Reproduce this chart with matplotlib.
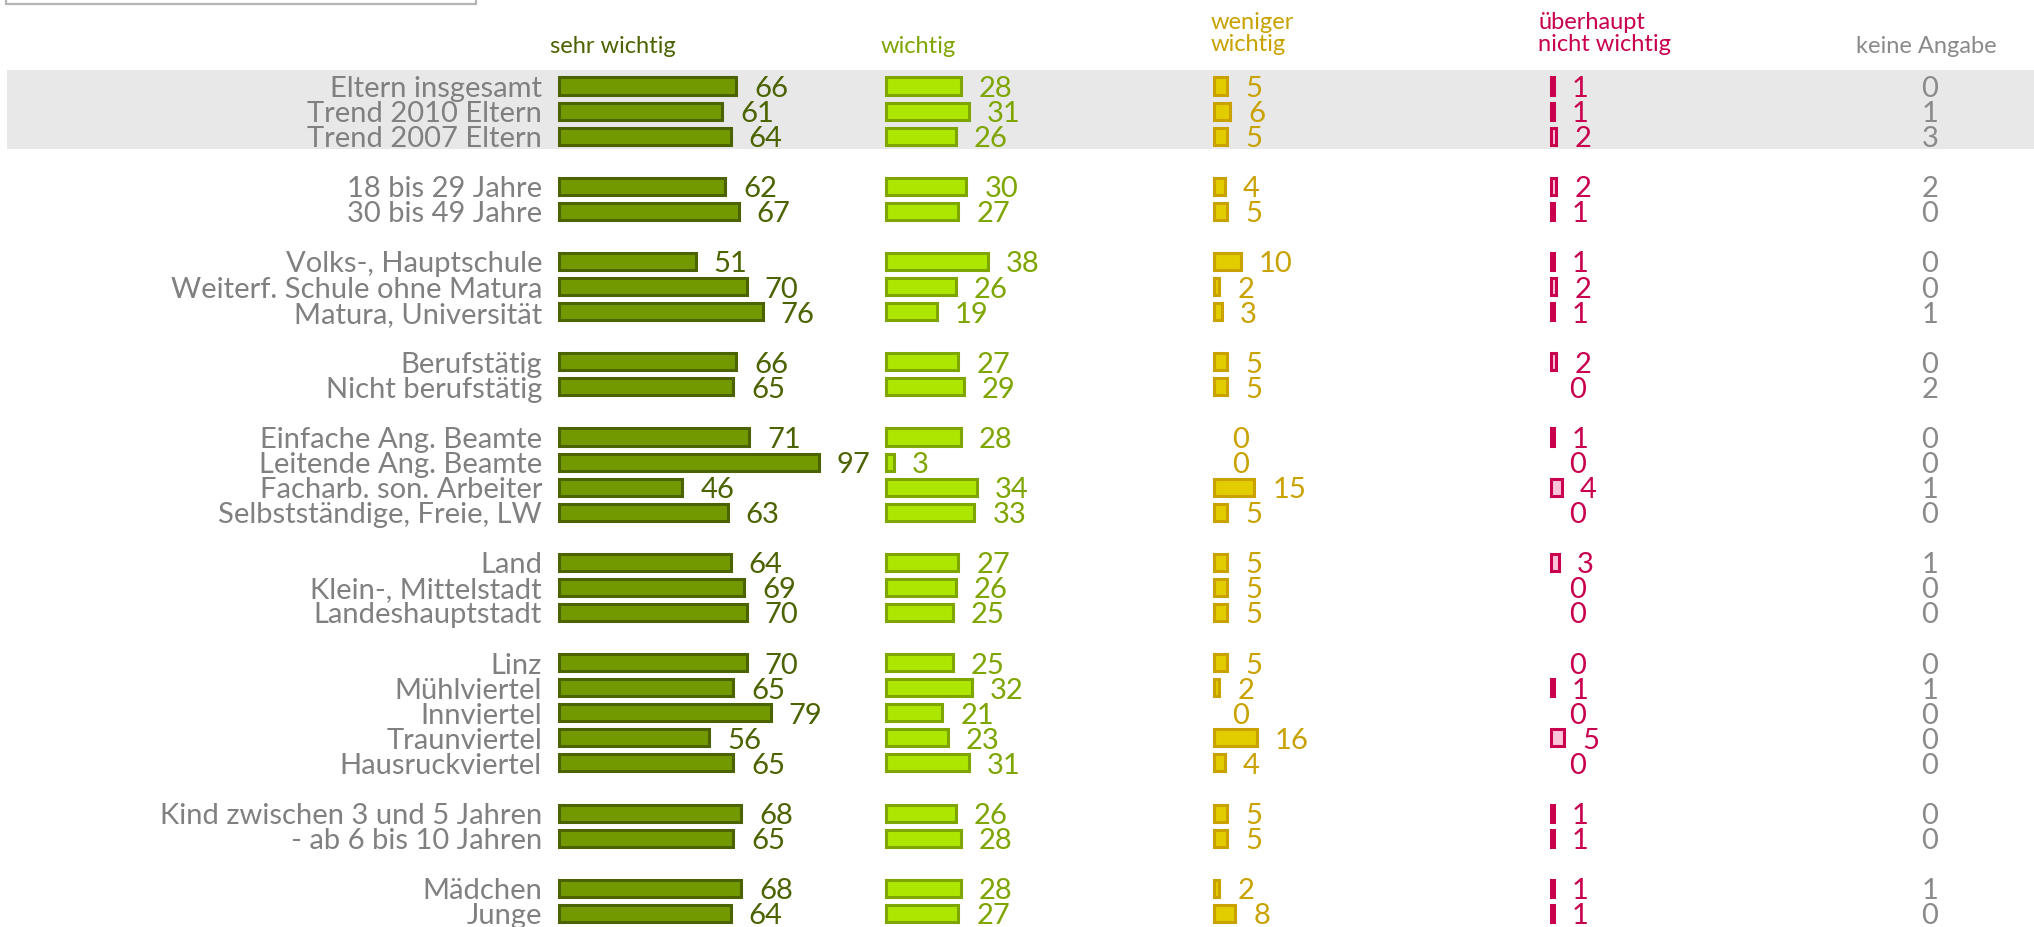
import matplotlib
matplotlib.use("Agg")
import matplotlib.pyplot as plt
import numpy as np
from matplotlib.patches import Rectangle

plt.rcParams["font.family"] = ["Lato", "DejaVu Sans"]

group_labels = [
    ["Eltern insgesamt", "Trend 2010 Eltern", "Trend 2007 Eltern"],
    ["18 bis 29 Jahre", "30 bis 49 Jahre"],
    ["Volks-, Hauptschule", "Weiterf. Schule ohne Matura", "Matura, Universität"],
    ["Berufstätig", "Nicht berufstätig"],
    ["Einfache Ang. Beamte", "Leitende Ang. Beamte", "Facharb. son. Arbeiter",
     "Selbstständige, Freie, LW"],
    ["Land", "Klein-, Mittelstadt", "Landeshauptstadt"],
    ["Linz", "Mühlviertel", "Innviertel", "Traunviertel", "Hausruckviertel"],
    ["Kind zwischen 3 und 5 Jahren", "- ab 6 bis 10 Jahren"],
    ["Mädchen", "Junge"],
]

sehr_wichtig = [66, 61, 64, 62, 67, 51, 70, 76, 66, 65, 71, 97, 46, 63,
                64, 69, 70, 70, 65, 79, 56, 65, 68, 65, 68, 64]
wichtig = [28, 31, 26, 30, 27, 38, 26, 19, 27, 29, 28, 3, 34, 33,
           27, 26, 25, 25, 32, 21, 23, 31, 26, 28, 28, 27]
weniger_wichtig = [5, 6, 5, 4, 5, 10, 2, 3, 5, 5, 0, 0, 15, 5,
                   5, 5, 5, 5, 2, 0, 16, 4, 5, 5, 2, 8]
nicht_wichtig = [1, 1, 2, 2, 1, 1, 2, 1, 2, 0, 1, 0, 4, 0,
                 3, 0, 0, 0, 1, 0, 5, 0, 1, 1, 1, 1]
keine_angabe = [0, 1, 3, 2, 0, 0, 0, 1, 0, 2, 0, 0, 1, 0,
                1, 0, 0, 0, 1, 0, 0, 0, 0, 0, 1, 0]

headers = ["sehr wichtig", "wichtig", "weniger\nwichtig",
           "überhaupt\nnicht wichtig", "keine Angabe"]

# row positions: one empty row between groups
labels, rows = [], []
pos = 0
for grp in group_labels:
    for name in grp:
        labels.append(name)
        rows.append(pos)
        pos += 1
    pos += 1
rows = np.array(rows, dtype=float)

W, H = 2034, 928
pitch = 25.07
top = 87.0
fig = plt.figure(figsize=(W / 100, H / 100), dpi=100)
ax = fig.add_axes([0, 0, 1, 1])
ax.set_xlim(0, W)
ax.set_ylim((H - top) / pitch, -top / pitch)
ax.axis("off")

# shaded band behind the overall rows
ax.axhspan(-0.64, 2.52, xmin=7 / W, xmax=1, color="#e8e8e8", zorder=0, lw=0)
# frame at top left
ax.add_patch(Rectangle((6, -6), 470, 6 - 3.27, fill=False, ec="#b5b5b5", lw=1.6))

scale = 2.68
gap = 18
ty = rows + 0.08  # text sits a touch lower than the bar centre
columns = [
    (sehr_wichtig, 559, "#739900", "#4b6300", "#4b6300"),
    (wichtig, 886, "#ade600", "#7fa500", "#7fa500"),
    (weniger_wichtig, 1214, "#e2cd00", "#c9a200", "#c9a200"),
    (nicht_wichtig, 1551, "#fbc4d9", "#c8004e", "#c8004e"),
]
label_fs = 21
for vals, x0, face, edge, tcol in columns:
    vals = np.array(vals, dtype=float)
    nz = vals > 0
    ax.barh(rows[nz], vals[nz] * scale, left=x0, height=0.68, color=face,
            edgecolor=edge, linewidth=2.2, zorder=2)
    for y, v in zip(ty, vals):
        ax.text(x0 + v * scale + gap, y, f"{int(v)}", ha="left", va="center",
                fontsize=label_fs, color=tcol, zorder=3)

for y, v in zip(ty, keine_angabe):
    ax.text(1930, y, f"{v}", ha="center", va="center", fontsize=label_fs,
            color="#8a8a8a")

for y, name in zip(ty, labels):
    ax.text(542, y, name, ha="right", va="center", fontsize=label_fs,
            color="#808080")

hdr_y = -1.62
hdr2_y = -2.14
hdr_fs = 17
ax.text(550, hdr_y, headers[0], ha="left", va="center", fontsize=hdr_fs, color="#4b6300")
ax.text(881, hdr_y, headers[1], ha="left", va="center", fontsize=hdr_fs, color="#7fa500")
ax.text(1211, hdr2_y, headers[2], ha="left", va="center", fontsize=hdr_fs, color="#c9a200",
        linespacing=1.1)
ax.text(1538, hdr2_y, headers[3], ha="left", va="center", fontsize=hdr_fs, color="#c8004e",
        linespacing=1.1)
ax.text(1926, hdr_y, headers[4], ha="center", va="center", fontsize=hdr_fs, color="#8a8a8a")

fig.savefig("out.png", dpi=100, facecolor="white")
